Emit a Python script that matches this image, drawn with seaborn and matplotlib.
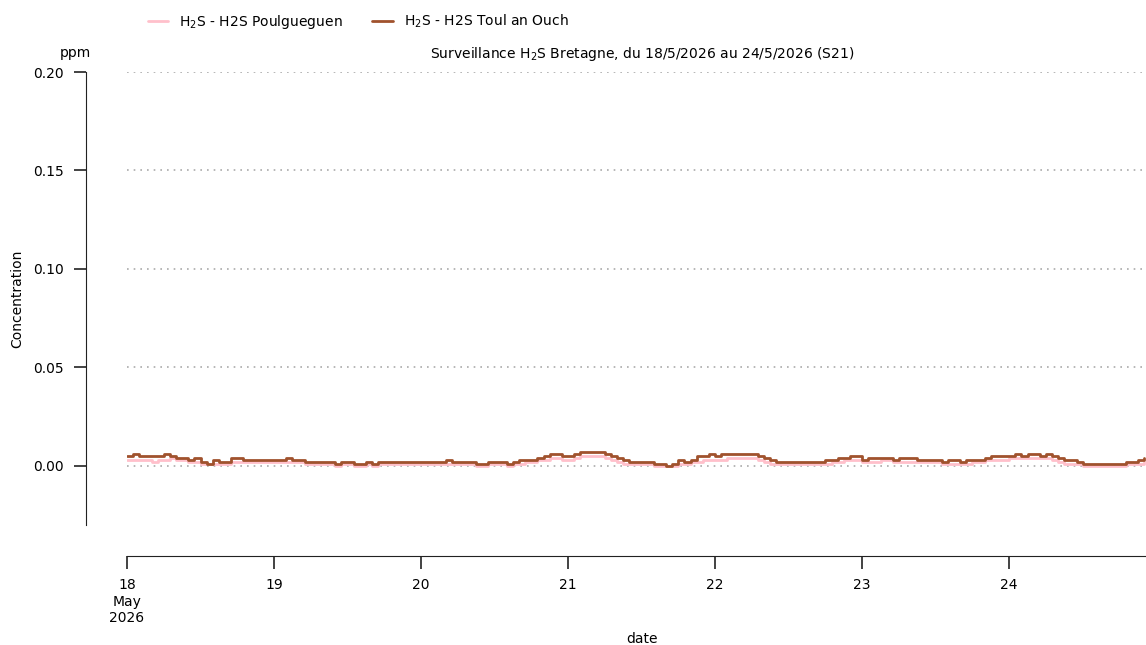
import numpy as np
import pandas as pd
import matplotlib
matplotlib.use("Agg")
import matplotlib.pyplot as plt
import seaborn as sns

# hourly H2S values (ppm), 18/5/2026 00:00 -> 24/5/2026 22:00
toul_an_ouch = [
    5,6,5,5,5,5,6,5,4,4,3,4,2,1,3,2,2,4,4,3,3,3,3,3,
    3,3,4,3,3,2,2,2,2,2,1,2,2,1,1,2,1,2,2,2,2,2,2,2,
    2,2,2,2,3,2,2,2,2,1,1,2,2,2,1,2,3,3,3,4,5,6,6,5,
    5,6,7,7,7,7,6,5,4,3,2,2,2,2,1,1,0,1,3,2,3,5,5,6,
    5,6,6,6,6,6,6,5,4,3,2,2,2,2,2,2,2,2,3,3,4,4,5,5,
    3,4,4,4,4,3,4,4,4,3,3,3,3,2,3,3,2,3,3,3,4,5,5,5,
    5,6,5,6,6,5,6,5,4,3,3,2,1,1,1,1,1,1,1,2,2,3,4,
]
poulgueguen = [
    3,3,3,3,2,3,3,4,3,3,2,2,1,1,1,1,1,2,2,2,2,2,2,2,
    2,2,2,2,2,1,1,1,1,1,0,1,1,0,0,1,0,1,1,1,1,1,1,1,
    1,1,1,1,1,1,1,1,1,0,0,1,1,1,0,1,1,2,2,3,3,4,4,3,
    3,4,5,5,5,5,4,3,2,1,1,1,1,1,0,0,0,0,1,1,2,2,3,3,
    3,3,4,4,4,4,4,3,2,1,1,1,1,1,1,1,1,1,1,2,2,3,3,3,
    2,2,2,3,3,2,2,2,2,2,2,2,2,1,1,1,1,1,2,2,3,3,3,3,
    4,4,4,4,4,4,4,3,2,1,1,1,0,0,0,0,0,0,0,1,1,1,2,
]
stations = ["H$_2$S - H2S Poulgueguen", "H$_2$S - H2S Toul an Ouch"]
colors = ["#ffc0cb", "#a0522d"]
day_ticks = ["2026-05-18", "2026-05-19", "2026-05-20", "2026-05-21",
             "2026-05-22", "2026-05-23", "2026-05-24"]
day_labels = ["18\nMay\n2026", "19", "20", "21", "22", "23", "24"]
y_ticks = [0.0, 0.05, 0.10, 0.15, 0.20]

times = pd.date_range("2026-05-18 00:00", periods=len(toul_an_ouch), freq="h")
df = pd.concat([
    pd.DataFrame({"date": times, "Concentration": np.array(poulgueguen) / 1000, "station": stations[0]}),
    pd.DataFrame({"date": times, "Concentration": np.array(toul_an_ouch) / 1000, "station": stations[1]}),
])

sns.set_style("ticks")
plt.rcParams["font.family"] = ["DejaVu Sans"]
plt.rcParams["text.color"] = "black"
plt.rcParams["axes.labelcolor"] = "black"

fig = plt.figure(figsize=(11.46, 6.45), dpi=100)
ax = fig.add_axes([127 / 1146, 1 - 525 / 645, 1 - 127 / 1146, (525 - 72) / 645])

sns.lineplot(data=df, x="date", y="Concentration", hue="station",
             palette=colors, linewidth=2, ax=ax, legend=False, drawstyle="steps-post")

ax.set_ylim(-0.03, 0.2)
ax.set_xlim(pd.Timestamp("2026-05-18 00:00"), pd.Timestamp("2026-05-24 22:20"))
ax.set_yticks(y_ticks)
ax.set_yticklabels([f"{v:.2f}" for v in y_ticks], fontsize=10)
ax.set_xticks(pd.to_datetime(day_ticks))
ax.set_xticklabels(day_labels, fontsize=10, linespacing=1.1)

for y in y_ticks:
    ax.axhline(y, color="#aaaaaa", linestyle=(0, (1, 3)), linewidth=1.2, zorder=0)

ax.spines["top"].set_visible(False)
ax.spines["right"].set_visible(False)
ax.spines["left"].set_position(("outward", 29.5))
ax.spines["bottom"].set_position(("outward", 22.5))
ax.spines["left"].set_bounds(-0.03, 0.2)
ax.tick_params(axis="both", length=9, width=1.2, color="#222222", labelcolor="black")
ax.tick_params(axis="x", pad=7)
ax.tick_params(axis="y", pad=7)
for s in ["left", "bottom"]:
    ax.spines[s].set_color("#222222")

ax.set_xlabel("date", fontsize=10)
ax.set_ylabel("Concentration", fontsize=10)
ax.yaxis.set_label_coords(-(127 - 24) / 1019, 0.5)
ax.xaxis.set_label_coords((642 - 127) / 1019, -(632 - 525) / 453)
ax.xaxis.label.set_va("top")
ax.set_title("Surveillance H$_2$S Bretagne, du 18/5/2026 au 24/5/2026 (S21)",
             fontsize=10, pad=10, x=(642 - 127) / 1019)
fig.text(75 / 1146, 1 - 53 / 645, "ppm", fontsize=10, ha="center", va="center")

handles = [plt.Line2D([], [], color=c, linewidth=2) for c in colors]
fig.legend(handles, stations, loc="center left", bbox_to_anchor=(135 / 1146, 1 - 22 / 645),
           ncol=2, frameon=False, fontsize=10, columnspacing=2.1, handlelength=1.5)

fig.savefig("out.png", dpi=100)
